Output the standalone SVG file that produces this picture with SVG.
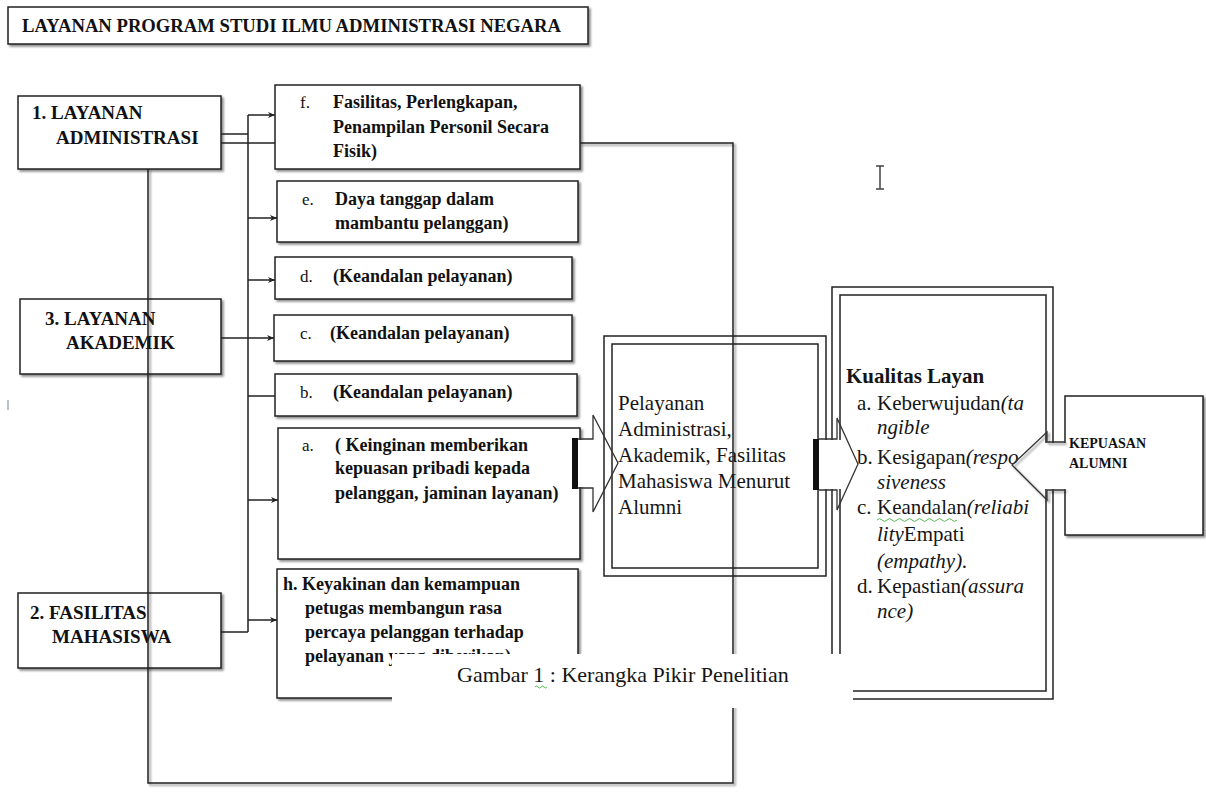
<svg xmlns="http://www.w3.org/2000/svg" width="1206" height="796" viewBox="0 0 1206 796">
<defs>
<filter id="sh" x="-10%" y="-10%" width="130%" height="130%">
<feDropShadow dx="2" dy="2" stdDeviation="0.8" flood-color="#000" flood-opacity="0.45"/>
</filter>
<marker id="ah" markerWidth="8" markerHeight="7" refX="7" refY="3.5" orient="auto" markerUnits="userSpaceOnUse">
<path d="M0,0.5 L7,3.5 L0,6.5 L2,3.5 z" fill="#222"/>
</marker>
<style>
.box{fill:#fff;stroke:#222;stroke-width:1.5}
.dbl{fill:none;stroke:#222;stroke-width:1.5}
.ln{fill:none;stroke:#222;stroke-width:1.5}
.b{font-family:"Liberation Serif","Times New Roman",serif;font-weight:bold;font-size:18px;fill:#111}
.nl{font-family:"Liberation Serif","Times New Roman",serif;font-weight:bold;font-size:19px;fill:#111}
.lab{font-family:"Liberation Serif","Times New Roman",serif;font-weight:normal;font-size:17px;fill:#111}
.r{font-family:"Liberation Serif","Times New Roman",serif;font-size:21px;fill:#151515}
.i{font-style:italic}
</style>
</defs>

<g id="title">
<rect x="8" y="7" width="580" height="37" class="box" style="filter:url(#sh)"/>
<text x="22" y="32" class="b" textLength="539" lengthAdjust="spacingAndGlyphs">LAYANAN PROGRAM STUDI ILMU ADMINISTRASI NEGARA</text>
</g>

<g id="node-layanan-administrasi">
<rect x="18" y="96" width="203" height="73" class="box" filter="url(#sh)"/>
<text x="32" y="119" class="nl">1. LAYANAN</text>
<text x="56" y="144" class="nl">ADMINISTRASI</text>
</g>

<g id="node-layanan-akademik">
<rect x="20" y="299" width="201" height="75" class="box" filter="url(#sh)"/>
<text x="45" y="325" class="nl">3. LAYANAN</text>
<text x="66" y="349" class="nl">AKADEMIK</text>
</g>

<g id="node-fasilitas-mahasiswa">
<rect x="18" y="593" width="203" height="75" class="box" filter="url(#sh)"/>
<text x="30" y="619" class="nl">2. FASILITAS</text>
<text x="52" y="643" class="nl">MAHASISWA</text>
</g>

<g id="node-f">
<rect x="275" y="85" width="305" height="84" class="box" filter="url(#sh)"/>
<text x="300" y="108" class="lab">f.</text>
<text x="333" y="108" class="b">Fasilitas, Perlengkapan,</text>
<text x="333" y="133" class="b">Penampilan Personil Secara</text>
<text x="333" y="157" class="b">Fisik)</text>
</g>

<g id="node-e">
<rect x="277" y="181" width="301" height="61" class="box" filter="url(#sh)"/>
<text x="302" y="205" class="lab">e.</text>
<text x="335" y="205" class="b">Daya tanggap dalam</text>
<text x="335" y="229" class="b">mambantu pelanggan)</text>
</g>

<g id="node-d">
<rect x="275" y="257" width="297" height="42" class="box" filter="url(#sh)"/>
<text x="300" y="282" class="lab">d.</text>
<text x="333" y="282" class="b">(Keandalan pelayanan)</text>
</g>

<g id="node-c">
<rect x="274" y="315" width="298" height="46" class="box" filter="url(#sh)"/>
<text x="300" y="339" class="lab">c.</text>
<text x="330" y="339" class="b">(Keandalan pelayanan)</text>
</g>

<g id="node-b">
<rect x="275" y="374" width="302" height="42" class="box" filter="url(#sh)"/>
<text x="300" y="398" class="lab">b.</text>
<text x="333" y="398" class="b">(Keandalan pelayanan)</text>
</g>

<g id="node-a">
<rect x="278" y="428" width="302" height="131" class="box" filter="url(#sh)"/>
<text x="302" y="451" class="lab">a.</text>
<text x="335" y="451" class="b">( Keinginan memberikan</text>
<text x="335" y="474" class="b">kepuasan pribadi kepada</text>
<text x="335" y="499" class="b">pelanggan, jaminan layanan)</text>
</g>

<g id="node-h">
<rect x="277" y="569" width="301" height="129" class="box" filter="url(#sh)"/>
<text x="283" y="590" class="b">h. Keyakinan dan kemampuan</text>
<text x="305" y="614" class="b">petugas membangun rasa</text>
<text x="305" y="638" class="b">percaya pelanggan terhadap</text>
<text x="305" y="662" class="b">pelayanan yang diberikan)</text>
</g>

<g id="node-pelayanan">
<rect x="604" y="336" width="222" height="240" class="box"/>
<rect x="612" y="344" width="206" height="224" class="dbl"/>
<text x="618" y="410" class="r">Pelayanan</text>
<text x="618" y="436" class="r">Administrasi,</text>
<text x="618" y="462" class="r">Akademik, Fasilitas</text>
<text x="618" y="488" class="r">Mahasiswa Menurut</text>
<text x="618" y="514" class="r">Alumni</text>
</g>

<g id="node-kualitas">
<rect x="832" y="287" width="221" height="412" class="box"/>
<rect x="840" y="295" width="206" height="396" class="dbl"/>
<text x="846" y="383" class="r" style="font-weight:bold">Kualitas Layan</text>
<text class="r"><tspan x="857" y="410">a.</tspan><tspan x="877" y="410">Keberwujudan</tspan><tspan class="i">(ta</tspan></text>
<text x="877" y="434" class="r i">ngible</text>
<text class="r"><tspan x="857" y="464">b.</tspan><tspan x="877" y="464">Kesigapan</tspan><tspan class="i">(respo</tspan></text>
<text x="877" y="489" class="r i">siveness</text>
<text class="r"><tspan x="857" y="514">c.</tspan><tspan x="877" y="514">Keandalan</tspan><tspan class="i">(reliabi</tspan></text>
<text x="877" y="541" class="r"><tspan class="i">lity</tspan>Empati</text>
<text x="877" y="568" class="r i">(empathy).</text>
<text class="r"><tspan x="857" y="593">d.</tspan><tspan x="877" y="593">Kepastian</tspan><tspan class="i">(assura</tspan></text>
<text x="877" y="618" class="r i">nce)</text>
<path d="M877,520 q2.5,-3 5,0 t5,0 t5,0 t5,0 t5,0 t5,0 t5,0 t5,0 t5,0 t5,0 t5,0 t5,0 t5,0 t5,0 t5,0 t5,0" fill="none" stroke="#5b5" stroke-width="1"/>
</g>

<g id="node-kepuasan">
<rect x="1065" y="396" width="138" height="139" class="box" filter="url(#sh)"/>
<text x="1069" y="448" class="b" style="font-size:14px">KEPUASAN</text>
<text x="1069" y="468" class="b" style="font-size:14px">ALUMNI</text>
</g>

<g id="connectors">
<path class="ln" d="M221,134 H248 M221,143 H275 M248,115 V632 M221,632 H248 M248,396 H275"/>
<path class="ln" marker-end="url(#ah)" d="M248,115 H275"/>
<path class="ln" marker-end="url(#ah)" d="M248,218 H277"/>
<path class="ln" marker-end="url(#ah)" d="M248,280 H275"/>
<path class="ln" marker-end="url(#ah)" d="M221,338 H274"/>
<path class="ln" marker-end="url(#ah)" d="M248,500 H278"/>
<path class="ln" marker-end="url(#ah)" d="M248,620 H277"/>
<path class="ln" filter="url(#sh)" d="M148,169 V783 H733 V143 H580"/>
<!-- block arrow a -> pelayanan -->
<rect x="576" y="440" width="20" height="47" fill="#fff"/>
<rect x="572" y="438" width="6" height="51" fill="#111"/>
<path d="M578,439 H593 V415 L618,463 L593,512 V488 H578" fill="none" stroke="#333" stroke-width="1.3"/>
<!-- block arrow pelayanan -> kualitas -->
<rect x="815" y="440" width="28" height="49" fill="#fff"/>
<rect x="813" y="439" width="6" height="51" fill="#111"/>
<path d="M819,439 H837 V418 L858,464 L837,510 V490 H819" fill="none" stroke="#333" stroke-width="1.3"/>
<!-- block arrow kepuasan -> kualitas -->
<rect x="1043" y="443" width="23" height="46" fill="#fff"/>
<path d="M1065,442 H1047 V432 L1012,465 L1047,500 V490 H1065" fill="none" stroke="#333" stroke-width="1.3" filter="url(#sh)"/>
</g>

<g id="caption">
<rect x="392" y="654" width="461" height="54" fill="#fff"/>
<text x="457" y="682" style="font-family:'Liberation Serif','Times New Roman',serif;font-size:22px;fill:#151515">Gambar 1 : Kerangka Pikir Penelitian</text>
<path d="M535,687 q1.5,-2 3,0 t3,0 t3,0 t3,0" fill="none" stroke="#5b5" stroke-width="1"/>
</g>

<g id="marks">
<path d="M876,166 H884 M880,166 V189 M876,189 H884" fill="none" stroke="#444" stroke-width="1.5"/>
<path d="M8,400 V410" stroke="#8a9bb0" stroke-width="1.2"/>
</g>
</svg>
